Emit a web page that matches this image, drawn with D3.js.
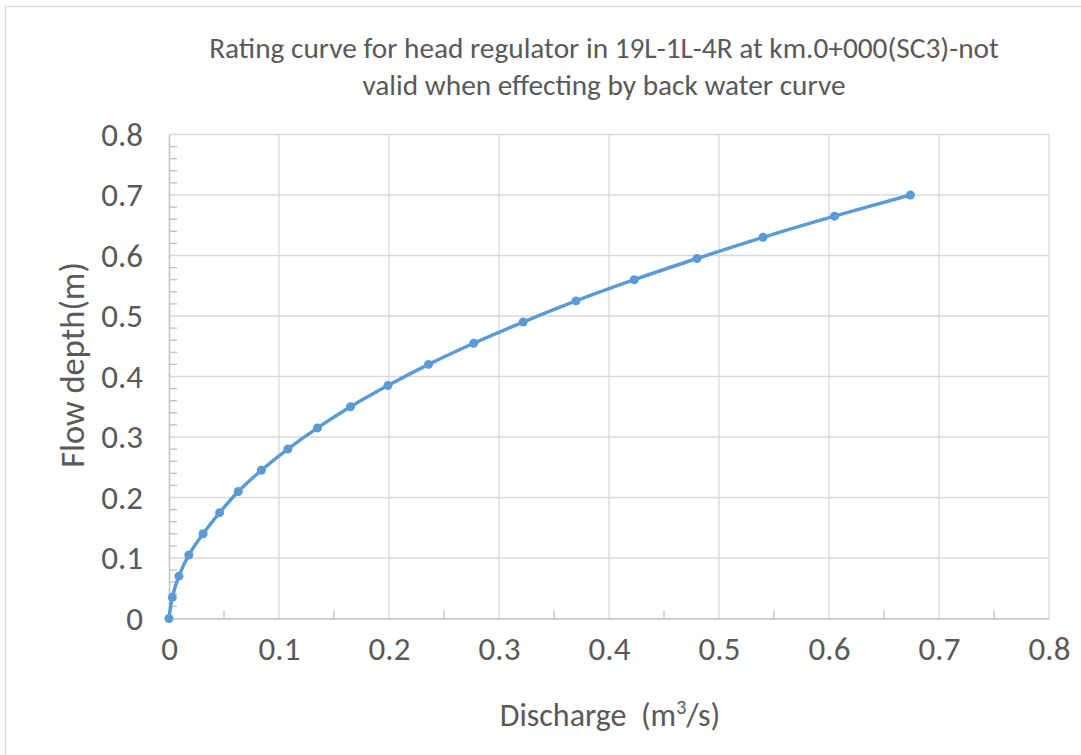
<!DOCTYPE html>
<html>
<head>
<meta charset="utf-8">
<script src="https://cdn.jsdelivr.net/npm/d3@7"></script>
<style>
  html, body { margin: 0; padding: 0; background: #fff; }
  svg { display: block; }
</style>
</head>
<body>
<svg id="chart" width="1081" height="755"></svg>
<script>
// Data
const discharge = [0, 0.003, 0.009, 0.018, 0.031, 0.046, 0.063, 0.084, 0.108, 0.135, 0.165, 0.199, 0.236, 0.277, 0.322, 0.370, 0.423, 0.480, 0.540, 0.605, 0.674];
const flowDepth = [0, 0.035, 0.07, 0.105, 0.14, 0.175, 0.21, 0.245, 0.28, 0.315, 0.35, 0.385, 0.42, 0.455, 0.49, 0.525, 0.56, 0.595, 0.63, 0.665, 0.70];
const xTicks = [0, 0.1, 0.2, 0.3, 0.4, 0.5, 0.6, 0.7, 0.8];
const yTicks = [0, 0.1, 0.2, 0.3, 0.4, 0.5, 0.6, 0.7, 0.8];
const titleLines = ["Rating curve for head regulator in 19L-1L-4R at km.0+000(SC3)-not", "valid when effecting by back water curve"];
const yLabel = "Flow depth(m)";

const font = "Carlito, Calibri, 'Open Sans', sans-serif";
const svg = d3.select("#chart");

// outer chart border
svg.append("rect").attr("x", 5.5).attr("y", 6.5).attr("width", 1200).attr("height", 900)
  .attr("fill", "#fff").attr("stroke", "#D9D9D9").attr("stroke-width", 1.5);

const x = d3.scaleLinear().domain([0, 0.8]).range([169, 1049]);
const y = d3.scaleLinear().domain([0, 0.8]).range([618.5, 134.5]);

// gridlines
const g = svg.append("g");
g.selectAll("line.vg").data(xTicks.slice(1)).join("line")
  .attr("x1", d => x(d)).attr("x2", d => x(d)).attr("y1", y(0)).attr("y2", y(0.8))
  .attr("stroke", "#D9D9D9").attr("stroke-width", 1.3);
g.selectAll("line.hg").data(yTicks.slice(1)).join("line")
  .attr("x1", x(0)).attr("x2", x(0.8)).attr("y1", d => y(d)).attr("y2", d => y(d))
  .attr("stroke", "#D9D9D9").attr("stroke-width", 1.3);

// minor ticks (inside)
const xMinor = d3.range(0.05, 0.8, 0.1);
const yMinor = d3.range(0, 0.8, 0.02).filter(v => Math.abs(v * 10 - Math.round(v * 10)) > 1e-6);
g.selectAll("line.xm").data(xMinor).join("line")
  .attr("x1", d => x(d)).attr("x2", d => x(d)).attr("y1", y(0)).attr("y2", y(0) - 8)
  .attr("stroke", "#BFBFBF").attr("stroke-width", 1.3);
g.selectAll("line.ym").data(yMinor).join("line")
  .attr("x1", x(0)).attr("x2", x(0) + 8).attr("y1", d => y(d)).attr("y2", d => y(d))
  .attr("stroke", "#BFBFBF").attr("stroke-width", 1.3);

// axes
const xAxis = svg.append("g").attr("transform", `translate(0,${y(0)})`)
  .call(d3.axisBottom(x).tickValues(xTicks).tickSize(0).tickPadding(22).tickFormat(d => d3.format("")(d)));
const yAxis = svg.append("g").attr("transform", `translate(${x(0)},0)`)
  .call(d3.axisLeft(y).tickValues(yTicks).tickSize(0).tickPadding(26).tickFormat(d => d3.format("")(d)));
[xAxis, yAxis].forEach(a => {
  a.select(".domain").attr("stroke", "#BFBFBF").attr("stroke-width", 1.5);
  a.selectAll("text").attr("fill", "#595959").style("font-family", font).style("font-size", "33px");
});
xAxis.selectAll("text").attr("dy", "0.6em");

// line
const line = d3.line().x((d, i) => x(discharge[i])).y(d => y(d)).curve(d3.curveCatmullRom.alpha(0.5));
svg.append("path").datum(flowDepth).attr("d", line)
  .attr("fill", "none").attr("stroke", "#5B9BD5").attr("stroke-width", 3.5).attr("stroke-linecap", "round");
svg.selectAll("circle.pt").data(flowDepth).join("circle")
  .attr("cx", (d, i) => x(discharge[i])).attr("cy", d => y(d)).attr("r", 4.5)
  .attr("fill", "#5B9BD5");

// title
svg.selectAll("text.title").data(titleLines).join("text")
  .attr("x", 604).attr("y", (d, i) => 58 + i * 37)
  .attr("text-anchor", "middle").attr("fill", "#595959")
  .style("font-family", font).style("font-size", "29.3px").text(d => d);

// axis titles
const xl = svg.append("text").attr("x", 610).attr("y", 726).attr("text-anchor", "middle")
  .attr("fill", "#595959").style("font-family", font).style("font-size", "32px");
xl.append("tspan").text("Discharge\u00a0\u00a0(m");
xl.append("tspan").attr("dy", -12).style("font-size", "20px").text("3");
xl.append("tspan").attr("dy", 12).text("/s)");

svg.append("text").attr("transform", "translate(84,365) rotate(-90)").attr("text-anchor", "middle")
  .attr("fill", "#595959").style("font-family", font).style("font-size", "34.5px").text(yLabel);
</script>
</body>
</html>
